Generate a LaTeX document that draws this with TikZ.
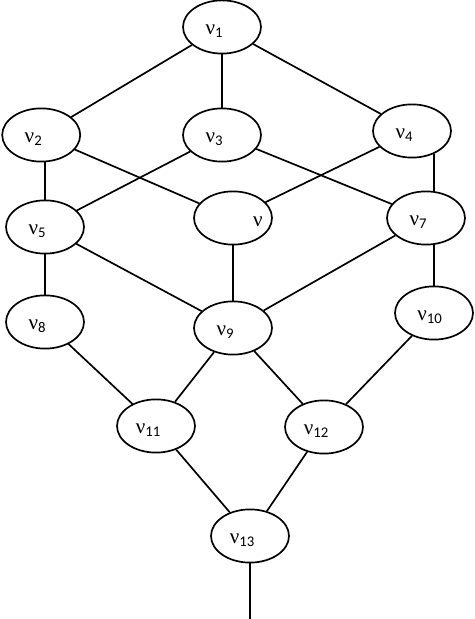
\documentclass[tikz,border=0pt]{standalone}
\usepackage{fontspec}
\setmainfont{Carlito}
\newfontfamily\nufont{Liberation Serif}
\usepackage{tikz}
\usetikzlibrary{shapes.geometric}
\newcommand{\vname}[1]{{\nufont ν}\textsubscript{#1}}
\tikzset{
    vertex/.style={draw,ellipse,line width=1.2pt,minimum width=1.95cm,minimum height=1.33cm,inner sep=0pt},
    edge/.style={line width=1.2pt},
    tag/.style={font=\fontsize{15}{18}\selectfont,inner sep=0pt,xshift=-0.19cm,yshift=-0.1cm}
}
\begin{document}
\begin{tikzpicture}
			\useasboundingbox (0,0) rectangle (11.85,15.475);
			\node[vertex, label={[tag]center:\vname{1}}] (v1) at (5.55,14.80) {};
			\node[vertex, label={[tag]center:\vname{2}}] (v2) at (1.03,12.10) {};
			\node[vertex, label={[tag]center:\vname{3}}] (v3) at (5.55,12.10) {};
			\node[vertex, label={[tag]center:\vname{4}}] (v4) at (10.30,12.20) {};
			\node[vertex, label={[tag]center:\vname{5}}] (v5) at (1.125,9.80) {};
			\node[vertex, label={[tag,xshift=0.81cm]center:{\nufont ν}}] (v6) at (5.825,10.025) {};
			\node[vertex, label={[tag]center:\vname{7}}] (v7) at (10.65,10.025) {};
			\node[vertex, label={[tag]center:\vname{8}}] (v8) at (1.125,7.425) {};
			\node[vertex, label={[tag]center:\vname{9}}] (v9) at (5.825,7.275) {};
			\node[vertex, label={[tag,xshift=0.09cm]center:\vname{10}}] (v10) at (10.85,7.65) {};
			\node[vertex, label={[tag]center:\vname{11}}] (v11) at (3.90,4.825) {};
			\node[vertex, label={[tag]center:\vname{12}}] (v12) at (8.10,4.80) {};
			\node[vertex, label={[tag]center:\vname{13}}] (v13) at (6.25,2.075) {};
			\coordinate (stem) at (6.25,0);
			\draw[edge] (v1) -- (v2);
			\draw[edge] (v1) -- (v3);
			\draw[edge] (v1) -- (v4);
			\draw[edge] (v2.south -| v5) -- (v5);
			\draw[edge] (v2) -- (v6);
			\draw[edge] (v3) -- (v5);
			\draw[edge] (v3) -- (v7);
			\draw[edge] (v4) -- (v6);
			\draw[edge] (v4.-47 -| v10) -- (v7.north -| v10);
			\draw[edge] (v5) -- (v8);
			\draw[edge] (v5) -- (v9);
			\draw[edge] (v6) -- (v9);
			\draw[edge] (v7) -- (v9);
			\draw[edge] (v7.south -| v10) -- (v10);
			\draw[edge] (v8) -- (v11);
			\draw[edge] (v9) -- (v11);
			\draw[edge] (v9) -- (v12);
			\draw[edge] (v10) -- (v12);
			\draw[edge] (v11) -- (v13);
			\draw[edge] (v12) -- (v13);
			\draw[edge] (v13) -- (stem);
		\end{tikzpicture}
\end{document}
